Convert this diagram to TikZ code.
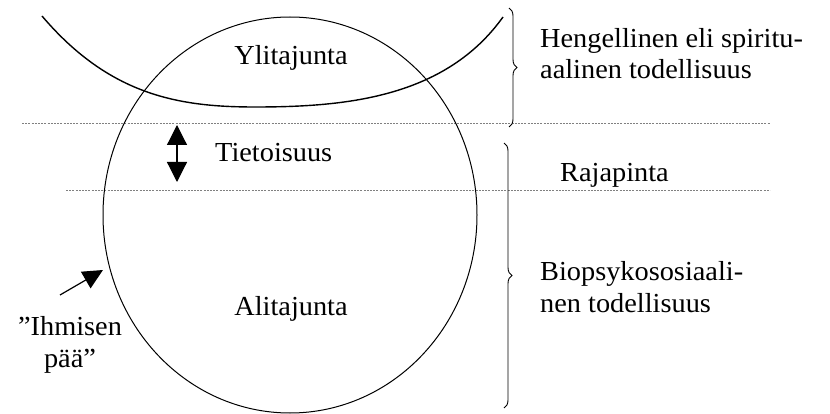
\documentclass[tikz,border=0pt]{standalone}
\usepackage{fontspec}
\setmainfont{Liberation Serif}[FakeStretch=1.03]
\usetikzlibrary{arrows.meta,decorations.pathreplacing,shapes.geometric}
\begin{document}
\begin{tikzpicture}[x=1pt,y=-1pt,
  lbl/.style={font=\fontsize{27.5}{31.5}\selectfont, inner sep=0pt, align=left},
  clbl/.style={font=\fontsize{27.5}{32}\selectfont, inner sep=0pt, align=center},
  dashline/.style={gray, line width=0.5pt, dash pattern=on 2pt off 1.2pt},
  bigtip/.style={-{Triangle[width=19pt,length=20pt]}, line width=1.2pt},
  bracestyle/.style={decorate, decoration={brace, amplitude=8pt}, line width=0.9pt}]
\useasboundingbox (0,0) rectangle (830,414);
% horizontal dashed lines
\coordinate (d1a) at (22,123); \coordinate (d1b) at (770,123);
\coordinate (d2a) at (66,190); \coordinate (d2b) at (770,190);
\draw[dashline] (d1a) -- (d1b);
\draw[dashline] (d2a) -- (d2b);
% bowl curve
\draw[line width=1.4pt] (42,16) .. controls (110,96) and (180,107) .. (255,107)
   .. controls (345,107) and (445,98) .. (503,17);
% head ellipse
\node[draw, line width=1pt, ellipse, inner sep=0pt, minimum width=374pt, minimum height=396pt] (head) at (290,215) {};
% labels inside
\node[clbl, anchor=base] (yli) at (291,65) {Ylitajunta};
\node[clbl, anchor=base west] (tie) at (215,162) {Tietoisuus};
\node[clbl, anchor=base] (ali) at (291,315) {Alitajunta};
% double arrow
\coordinate (da1) at (177,125);
\coordinate (da2) at (177,182);
\draw[{Triangle[width=20pt,length=20pt]}-{Triangle[width=20pt,length=20pt]}, line width=1.2pt] (da1) -- (da2);
% head label and arrow
\node[clbl, anchor=base] (ihm) at (70,367) {”Ihmisen\\pää”};
\coordinate (atail) at (60,295);
\coordinate (ahead) at (103,270);
\draw[bigtip] (atail) -- (ahead);
% braces
\coordinate (b1t) at (509,8); \coordinate (b1b) at (509,127);
\coordinate (b2t) at (504,143); \coordinate (b2b) at (504,408);
\draw[bracestyle] (b1t) -- (b1b);
\draw[bracestyle] (b2t) -- (b2b);
% right labels
\node[lbl, anchor=base west] (hen) at (540,79) {Hengellinen eli spiritu-\\aalinen todellisuus};
\node[lbl, anchor=base west] (raja) at (560,182) {Rajapinta};
\node[lbl, anchor=base west] (bio) at (540,312) {Biopsykososiaali-\\nen todellisuus};
\end{tikzpicture}
\end{document}
